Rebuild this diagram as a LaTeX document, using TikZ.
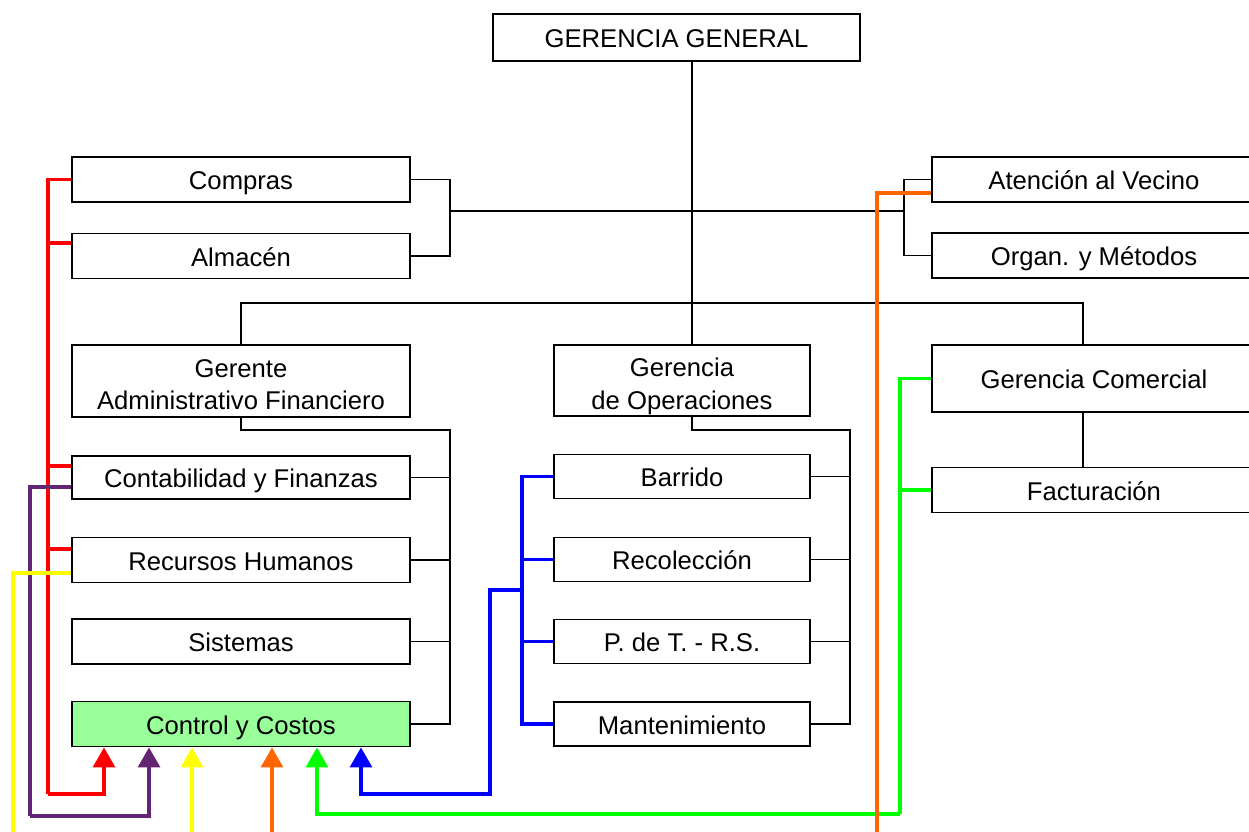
\documentclass[tikz,border=0pt]{standalone}
\usepackage{fontspec}
\setmainfont{Liberation Sans}
\usepackage{xcolor}
\usetikzlibrary{arrows.meta}

\definecolor{boxgreen}{HTML}{99FF99}
\definecolor{wirered}{HTML}{FF0000}
\definecolor{wirepurple}{HTML}{642575}
\definecolor{wireyellow}{HTML}{FFFF00}
\definecolor{wireorange}{HTML}{FF6600}
\definecolor{wiregreen}{HTML}{00FF00}
\definecolor{wireblue}{HTML}{0000FF}

\newcommand{\twolines}[2]{\begin{tabular}{@{}c@{}}#1\\#2\end{tabular}}

\tikzset{
  unit/.style={draw, line width=1.1pt, inner sep=0pt,
    font=\fontsize{14.6}{18.3}\selectfont},
  oneline/.style={text height=1.2em, text depth=0.06em},
  twoline/.style={text height=0.62cm, text depth=0.124cm},
  leftbox/.style={unit, minimum width=6.76cm, minimum height=0.9cm},
  midbox/.style={unit, minimum width=5.12cm, minimum height=0.88cm},
  rightbox/.style={unit, minimum width=6.48cm, minimum height=0.9cm},
  link/.style={line width=0.8pt},
  wire/.style={line width=2pt, color=#1},
  feed/.style={wire=#1, -{Triangle[width=0.44cm,length=0.4cm]}}
}

\begin{document}
\begin{tikzpicture}[x=0.02cm, y=-0.02cm]
    \useasboundingbox (0,0) rectangle (1249,832);

    \node[unit, oneline, minimum width=7.34cm, minimum height=0.94cm] (gg) at (676.5,37.5) {GERENCIA GENERAL};

    \node[leftbox, oneline] (compras) at (241,179.5) {Compras};
    \node[leftbox, oneline] (almacen) at (241,256) {Almacén};
    \node[rightbox, oneline] (vecino) at (1094,179.5) {Atención al Vecino};
    \node[rightbox, oneline] (metodos) at (1094,255.5) {Organ. y Métodos};

    \node[leftbox, twoline, minimum height=1.44cm] (gaf) at (241,381) {\twolines{Gerente}{Administrativo Financiero}};
    \node[midbox, twoline, minimum height=1.42cm] (gop) at (682,380.5) {\twolines{Gerencia}{de Operaciones}};
    \node[rightbox, oneline, minimum height=1.34cm] (gcom) at (1094,378.5) {Gerencia Comercial};

    \node[leftbox, oneline, minimum height=0.86cm] (conta) at (241,477.5) {Contabilidad y Finanzas};
    \node[leftbox, oneline] (rrhh) at (241,560) {Recursos Humanos};
    \node[leftbox, oneline] (sist) at (241,641.5) {Sistemas};
    \node[leftbox, oneline, fill=boxgreen] (control) at (241,724) {Control y Costos};

    \node[midbox, oneline] (barrido) at (682,476.5) {Barrido};
    \node[midbox, oneline] (recol) at (682,559.5) {Recolección};
    \node[midbox, oneline] (pdt) at (682,641.5) {P. de T. - R.S.};
    \node[midbox, oneline] (mant) at (682,724) {Mantenimiento};
    \node[rightbox, oneline] (fact) at (1094,490) {Facturación};

    \coordinate (trunk) at (692,303);
    \coordinate (lb) at (450,211);
    \coordinate (rb) at (904,211);
    \coordinate (cx) at (1083,303);
    \coordinate (lbr) at (450,430);
    \coordinate (rbr) at (850,430);

    \draw[link] (gg.south -| trunk) -- (gop.north -| trunk);
    \draw[link] (lb) -- (rb);
    \draw[link] (compras.east) -| (lb) |- (almacen.east);
    \draw[link] (vecino.west) -| (rb) |- (metodos.west);
    \draw[link] (gaf.north) |- (trunk) -| (gcom.north -| cx);
    \draw[link] (gcom.south -| cx) -- (fact.north -| cx);
    \draw[link] (gaf.south) |- (lbr) |- (control.east);
    \foreach \n in {conta, rrhh, sist}
      \draw[link] (\n.east) -- (\n.east -| lbr);
    \draw[link] (gop.south -| trunk) |- (rbr) |- (mant.east);
    \foreach \n in {barrido, recol, pdt}
      \draw[link] (\n.east) -- (\n.east -| rbr);

    \coordinate (redx) at (48,794);
    \coordinate (redin) at (104,794);
    \coordinate (purx) at (30,816);
    \coordinate (purin) at (149,816);
    \coordinate (yelx) at (13,840);
    \coordinate (yelin) at (192,840);
    \coordinate (orx) at (877,840);
    \coordinate (orin) at (272,840);
    \coordinate (grx) at (900,814);
    \coordinate (grin) at (317,814);
    \coordinate (blx) at (522,590);
    \coordinate (bly) at (490,794);
    \coordinate (blin) at (361,794);

    \draw[wire=wirered] (compras.west) -| (redx);
    \foreach \n/\dy in {almacen/0.26, conta/0.23, rrhh/0.22}
      \draw[wire=wirered] ([yshift=\dy cm]\n.west) -| (redx);
    \draw[feed=wirered] (redx) -- (redin) -- (redin |- control.south);

    \draw[wire=wirepurple] ([yshift=-0.19cm]conta.west) -| (purx);
    \draw[feed=wirepurple] (purx) -- (purin) -- (purin |- control.south);

    \draw[wire=wireyellow] ([yshift=-0.26cm]rrhh.west) -| (yelx);
    \draw[feed=wireyellow] (yelin) -- (yelin |- control.south);

    \foreach \n in {barrido, recol, pdt, mant}
      \draw[wire=wireblue] (\n.west) -| (blx);
    \draw[feed=wireblue] (blx) -| (bly) -- (blin) -- (blin |- control.south);

    \draw[wire=wiregreen] (gcom.west) -| (grx);
    \draw[wire=wiregreen] (fact.west) -| (grx);
    \draw[feed=wiregreen] (grx) -- (grin) -- (grin |- control.south);

    \draw[wire=wireorange] ([yshift=-0.27cm]vecino.west) -| (orx);
    \draw[feed=wireorange] (orin) -- (orin |- control.south);
\end{tikzpicture}
\end{document}
